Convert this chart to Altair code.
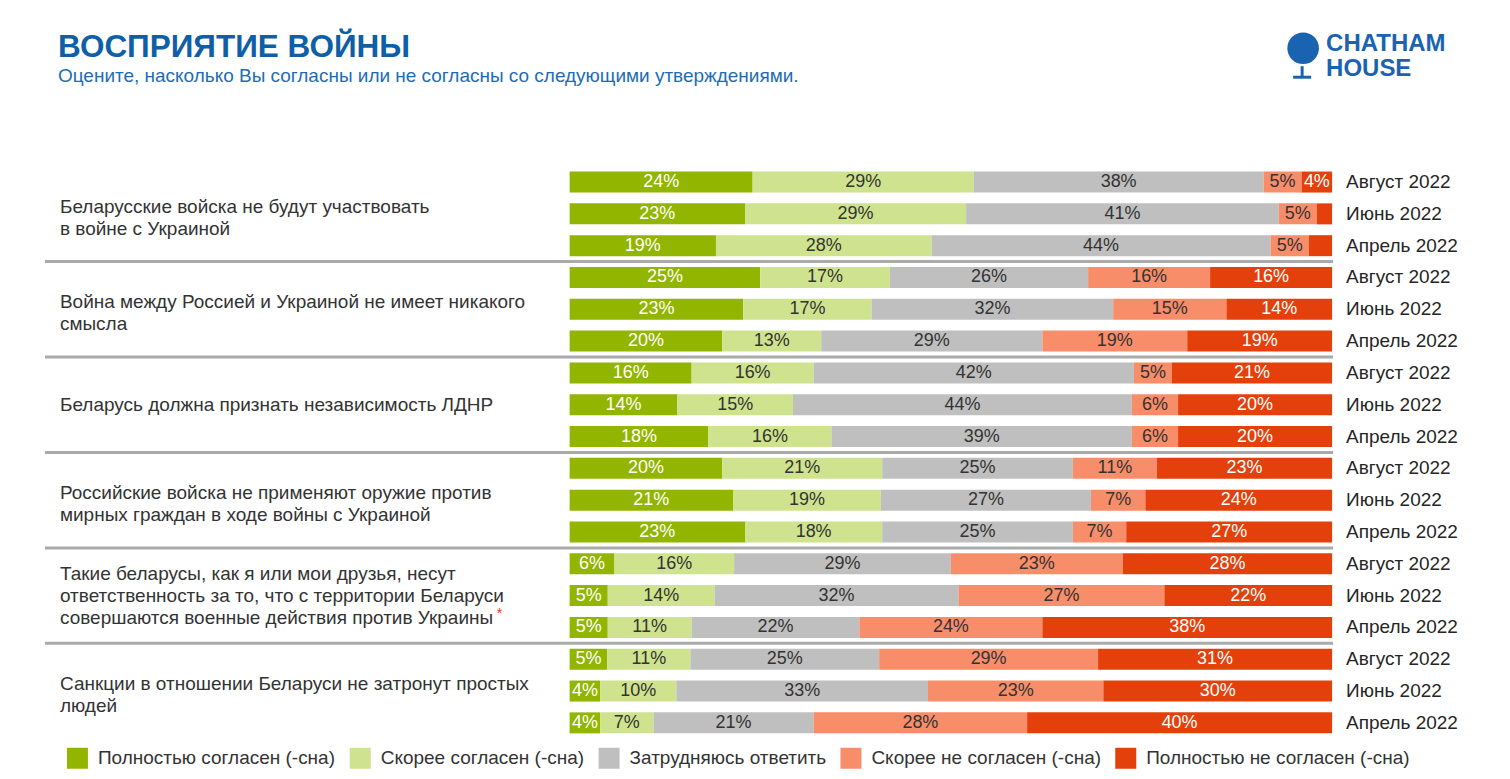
import altair as alt
import pandas as pd

FONT = "Liberation Sans, Arial, sans-serif"

questions = [
    "Беларусские войска не будут участвовать\nв войне с Украиной",
    "Война между Россией и Украиной не имеет никакого\nсмысла",
    "Беларусь должна признать независимость ЛДНР",
    "Российские войска не применяют оружие против\nмирных граждан в ходе войны с Украиной",
    "Такие беларусы, как я или мои друзья, несут\nответственность за то, что с территории Беларуси\nсовершаются военные действия против Украины",
    "Санкции в отношении Беларуси не затронут простых\nлюдей",
]
waves = ["Август 2022", "Июнь 2022", "Апрель 2022"]
categories = [
    "Полностью согласен (-сна)",
    "Скорее согласен (-сна)",
    "Затрудняюсь ответить",
    "Скорее не согласен (-сна)",
    "Полностью не согласен (-сна)",
]
colors = ["#92b500", "#cfe38f", "#bfbfbf", "#f88d6a", "#e3400c"]
label_colors = ["white", "#333333", "#333333", "#333333", "white"]

full_agree = [24, 23, 19, 25, 23, 20, 16, 14, 18, 20, 21, 23, 6, 5, 5, 5, 4, 4]
agree = [29, 29, 28, 17, 17, 13, 16, 15, 16, 21, 19, 18, 16, 14, 11, 11, 10, 7]
unsure = [38, 41, 44, 26, 32, 29, 42, 44, 39, 25, 27, 25, 29, 32, 22, 25, 33, 21]
disagree = [5, 5, 5, 16, 15, 19, 5, 6, 6, 11, 7, 7, 23, 27, 24, 29, 23, 28]
full_disagree = [4, 2, 3, 16, 14, 19, 21, 20, 20, 23, 24, 27, 28, 22, 38, 31, 30, 40]

series = [full_agree, agree, unsure, disagree, full_disagree]
row_ids = [f"r{i:02d}" for i in range(len(questions) * len(waves))]

recs = []
for ci, (cat, vals) in enumerate(zip(categories, series)):
    for ri, v in enumerate(vals):
        recs.append({"row": row_ids[ri], "cat": cat, "order": ci, "value": v,
                     "tc": label_colors[ci]})
df = pd.DataFrame(recs)

month_df = pd.DataFrame({"row": row_ids,
                         "wave": [waves[i % 3] for i in range(len(row_ids))]})
q_df = pd.DataFrame({"row": [row_ids[g * 3 + 1] for g in range(len(questions))],
                     "q": questions,
                     "n": [q.count("\n") + 1 for q in questions]})
sep_df = pd.DataFrame({"row": [row_ids[g * 3 + 2] for g in range(len(questions) - 1)]})

yscale = alt.Scale(domain=row_ids, paddingInner=0.34, paddingOuter=0.17)
Y = alt.Y("row:N", scale=yscale, axis=None)
xscale = alt.Scale(domain=[0, 1], nice=False, zero=True)

base = alt.Chart(df)
stacked = (
    base.transform_joinaggregate(total="sum(value)", groupby=["row"])
    .transform_stack(stack="value", as_=["s0", "s1"], groupby=["row"],
                     sort=[alt.SortField("order", order="ascending")])
    .transform_calculate(n0="datum.s0/datum.total", n1="datum.s1/datum.total",
                         mid="(datum.s0+datum.s1)/2/datum.total",
                         lab="datum.value + '%'")
)

bars = stacked.mark_bar().encode(
    x=alt.X("n0:Q", scale=xscale, axis=None),
    x2="n1:Q",
    y=Y,
    color=alt.Color("cat:N", scale=alt.Scale(domain=categories, range=colors),
                    legend=alt.Legend(title=None, orient="none", legendX=-503, legendY=582,
                                      direction="horizontal", columns=5,
                                      symbolType="square", symbolSize=441,
                                      symbolStrokeWidth=0, labelFontSize=19,
                                      labelFont=FONT, labelColor="#333333",
                                      labelLimit=400, columnPadding=14,
                                      labelOffset=10, padding=0)),
)

texts = stacked.transform_filter("datum.value >= 4").mark_text(
    fontSize=18, font=FONT, baseline="middle", align="center"
).encode(
    x=alt.X("mid:Q", scale=xscale, axis=None),
    y=Y,
    text="lab:N",
    color=alt.Color("tc:N", scale=None),
)

months = alt.Chart(month_df).mark_text(
    fontSize=19, font=FONT, align="left", baseline="middle", color="#262626"
).encode(x=alt.value(777), y=Y, text="wave:N")


def qlayer(nlines, dy):
    return alt.Chart(q_df).transform_filter(f"datum.n == {nlines}").mark_text(
        fontSize=19, font=FONT, align="left", baseline="middle", color="#333333",
        lineBreak="\n", lineHeight=22, dy=dy
    ).encode(x=alt.value(-510), y=Y, text="q:N")


q1 = qlayer(1, 0)
q2 = qlayer(2, -7)
q3 = qlayer(3, -22)

asterisk = alt.Chart(pd.DataFrame({"row": [row_ids[13]], "t": ["*"]})).mark_text(
    fontSize=14, font=FONT, align="left", baseline="middle", color="#e3400c", dy=18
).encode(x=alt.value(-73), y=Y, text="t:N")

seps = alt.Chart(sep_df).mark_rule(color="#aaaaaa", strokeWidth=3, yOffset=15.9).encode(
    x=alt.value(-525), x2=alt.value(764), y=Y
)


def single(text, x, y, size, color, weight="normal"):
    return alt.Chart(pd.DataFrame({"t": [text]})).mark_text(
        fontSize=size, font=FONT, fontWeight=weight, align="left",
        baseline="alphabetic", color=color
    ).encode(x=alt.value(x), y=alt.value(y), text="t:N")


title = single("ВОСПРИЯТИЕ ВОЙНЫ", -512, -109, 31.5, "#0f5fa8", "bold")
subtitle = single("Оцените, насколько Вы согласны или не согласны со следующими утверждениями.",
                  -512, -84, 19, "#1c6cb8")
logo1 = single("CHATHAM", 757, -115, 24, "#1a63b0", "bold")
logo2 = single("HOUSE", 757, -90, 24, "#1a63b0", "bold")
globe = alt.Chart(pd.DataFrame({"t": [1]})).mark_circle(
    size=1000, color="#1a63b0", opacity=1
).encode(x=alt.value(734), y=alt.value(-118))
stand = alt.Chart(pd.DataFrame({"t": [1]})).mark_rule(
    color="#1a63b0", strokeWidth=3
).encode(x=alt.value(733), y=alt.value(-100), y2=alt.value(-90))
standbase = alt.Chart(pd.DataFrame({"t": [1]})).mark_rule(
    color="#1a63b0", strokeWidth=3
).encode(x=alt.value(724), x2=alt.value(742), y=alt.value(-89))

chart = alt.layer(
    seps, bars, texts, months, q1, q2, q3, asterisk,
    title, subtitle, globe, stand, standbase, logo1, logo2
).properties(
    width=763, height=573,
    autosize=alt.AutoSizeParams(type="none"),
    padding={"left": 562, "top": 158, "right": 170, "bottom": 40},
).configure(font=FONT).configure_view(stroke=None)

chart.save("out.html", embed_options={"renderer": "svg", "actions": False})
